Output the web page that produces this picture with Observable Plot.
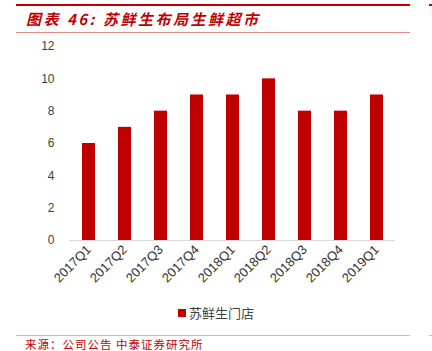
<!DOCTYPE html>
<html><head><meta charset="utf-8">
<script src="https://cdn.jsdelivr.net/npm/d3@7"></script>
<script src="https://cdn.jsdelivr.net/npm/@observablehq/plot@0.6"></script>
<style>
body{margin:0;width:432px;height:351px;position:relative;background:#fff;overflow:hidden;font-family:"Noto Sans CJK SC","Liberation Sans",sans-serif;}
.abs{position:absolute;}
#topline{left:16px;top:4px;width:394px;height:2px;background:#c00000;}
#topline2{left:429px;top:4px;width:3px;height:2px;background:#c00000;}
#title{left:26px;top:8px;font-size:15px;font-weight:bold;font-style:italic;color:#c00000;white-space:nowrap;letter-spacing:2.5px;}
#tline{left:16px;top:32px;width:394px;height:1px;background:#e58a8a;}
#chart{left:0;top:38px;}
#legend{left:0;top:303px;width:432px;text-align:center;font-size:13px;color:#404040;}
#legend span.sw{display:inline-block;width:8px;height:8px;background:#c00000;margin-right:3px;vertical-align:1px;}
#sline{left:16px;top:335px;width:394px;height:1px;background:#f0a8a8;}
#sline2{left:429px;top:335px;width:3px;height:1px;background:#f0a8a8;}
#source{left:25px;top:336px;font-size:11.5px;color:#c00000;white-space:nowrap;letter-spacing:1px;}
</style></head>
<body>
<div class="abs" id="topline"></div><div class="abs" id="topline2"></div>
<div class="abs" id="title">图表 46:&nbsp;苏鲜生布局生鲜超市</div>
<div class="abs" id="tline"></div>
<div class="abs" id="chart"></div>
<div class="abs" id="legend"><span class="sw"></span>苏鲜生门店</div>
<div class="abs" id="sline"></div><div class="abs" id="sline2"></div>
<div class="abs" id="source">来源：公司公告 中泰证券研究所</div>
<script>
const categories = ["2017Q1","2017Q2","2017Q3","2017Q4","2018Q1","2018Q2","2018Q3","2018Q4","2019Q1"];
const stores = [6,7,8,9,9,10,8,8,9];
const yTicks = [0,2,4,6,8,10,12];
const seriesName = "苏鲜生门店";

const data = categories.map((c,i)=>({q:c, v:stores[i]}));
const chart = Plot.plot({
  width: 432,
  height: 262,
  marginLeft: 69,
  marginRight: 37,
  marginTop: 8,
  marginBottom: 60,
  style: {fontFamily: "'Liberation Sans','Noto Sans CJK SC',sans-serif", fontSize: "12px", color: "#404040", background: "transparent"},
  x: {domain: categories, paddingInner: 0.64, paddingOuter: 0.32, label: null},
  y: {domain: [0,12], label: null},
  marks: [
    Plot.barY(data, {x: "q", y: "v", fill: "#c00000"}),
    Plot.ruleY([0], {stroke: "#d9d9d9", strokeWidth: 1}),
    Plot.axisY(yTicks, {tickSize: 0, tickPadding: 15, fontSize: 12, fill: "#404040", label: null}),
    Plot.axisX({tickSize: 0, tickRotate: -45, tickPadding: 7, fontSize: 13, fill: "#333", label: null})
  ]
});
document.getElementById("chart").appendChild(chart);
</script>
</body></html>
